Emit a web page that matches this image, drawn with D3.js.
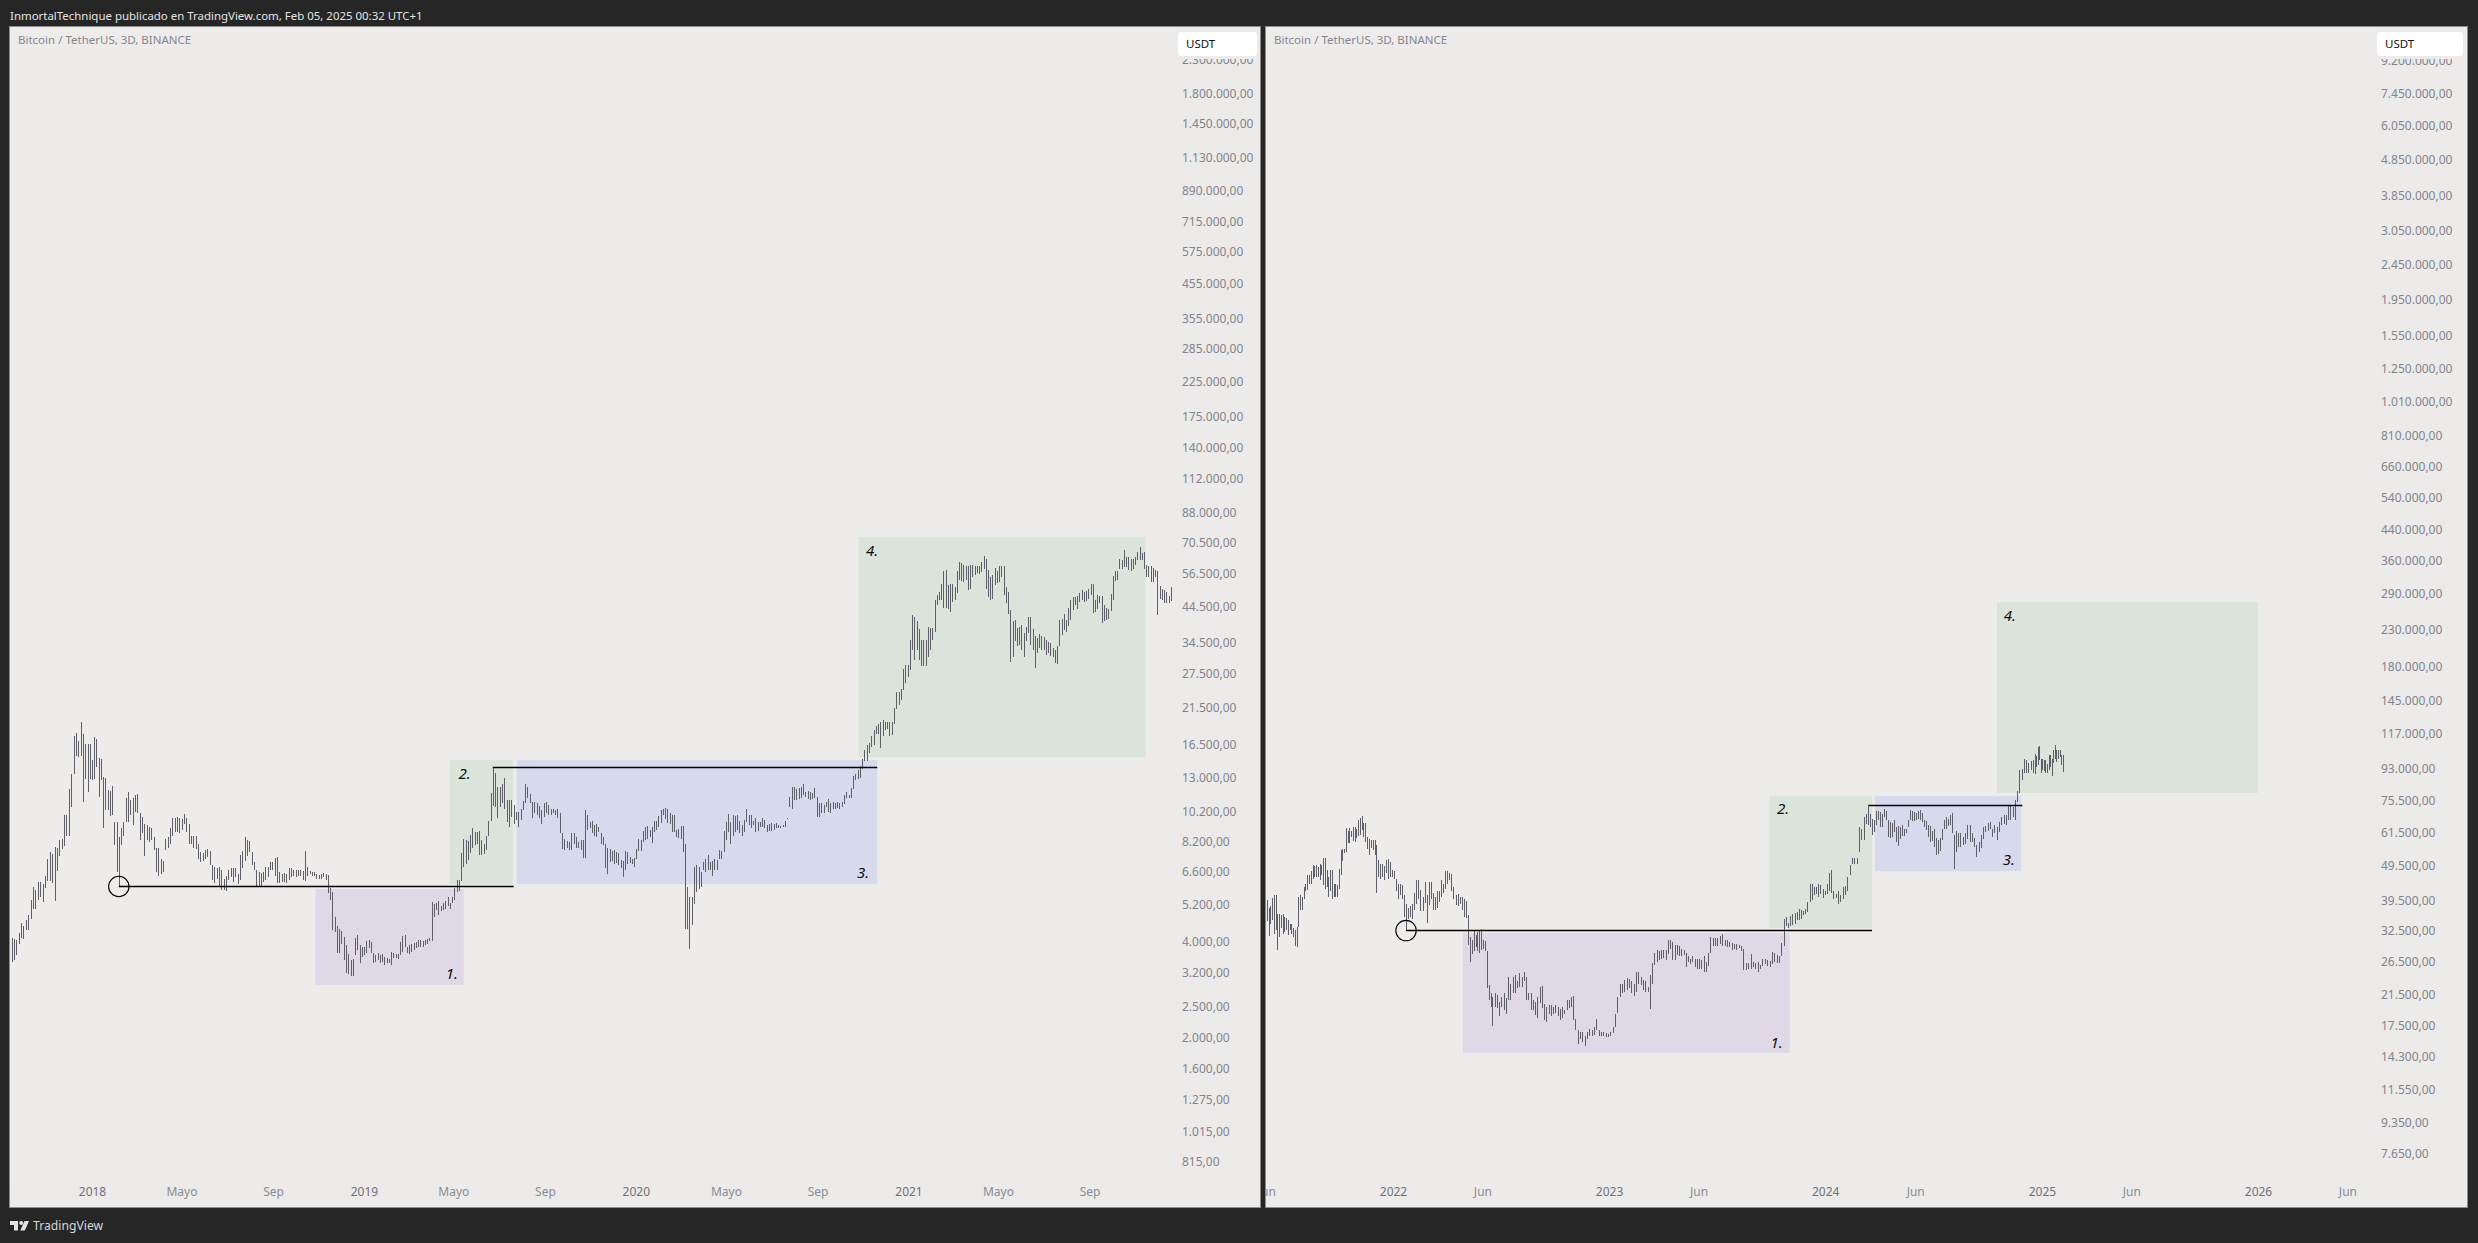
<!DOCTYPE html>
<html>
<head>
<meta charset="utf-8">
<title>BTC 3D</title>
<script src="https://cdn.jsdelivr.net/npm/d3@7"></script>
<style>
  html, body { margin: 0; padding: 0; background: #262626; }
  svg { display: block; }
  text { font-family: "Noto Sans", sans-serif; }
</style>
</head>
<body>
<svg id="chart" width="2478" height="1243"></svg>
<script>
// [high, low] of each 3D bar
const leftBars = [
  [4090,3430],[4050,3490],[4030,3600],[4220,3900],[4540,4090],[4450,4060],[4650,4310],[4830,4310],[5380,4680],[5880,5030],
  [5770,5030],[6120,5360],[6090,5480],[6030,5270],[6400,5840],[7210,6160],[7600,6160],[7470,6050],[7870,5330],[7830,6610],
  [8240,7340],[8300,7750],[9870,7900],[9880,8480],[11950,8480],[13300,10480],[17500,13300],[17900,15160],[16900,15080],[19400,15160],
  [17730,10870],[16500,12830],[16500,11660],[16500,12830],[14720,12710],[17300,12830],[17120,14010],[14880,11290],[14780,12710],[13000,9000],
  [12960,10260],[11820,10260],[11740,9820],[12180,9890],[9400,7980],[9400,6560],[8450,5900],[9000,7980],[9400,8530],[11150,9400],
  [11640,9400],[11020,9890],[11150,9210],[11410,10140],[11550,10010],[10010,8240],[9770,8670],[9300,7350],[9210,8240],[9100,8150],
  [9000,8240],[8450,7690],[7830,6560],[7830,6400],[7210,6450],[7120,6560],[8340,7690],[8450,7780],[9000,8060],[9660,8530],
  [9720,8780],[9770,8780],[9660,8670],[9600,8870],[9950,9300],[9660,8780],[9300,8060],[8530,8060],[8480,7830],[8530,7740],
  [8030,7210],[7600,7060],[7510,7120],[7690,7210],[7730,7300],[7650,6900],[6900,6190],[6820,6080],[6740,6260],[6820,5910],
  [6640,5760],[6260,5760],[6400,5730],[6640,6190],[6740,6320],[6740,6120],[6740,6320],[6450,6020],[7430,6190],[7650,6740],
  [8450,7120],[8240,7340],[8200,7600],[7600,6900],[7060,6640],[6640,5880],[6560,5910],[6510,5910],[6560,6120],[6820,6190],
  [6820,6320],[7060,6640],[7060,6640],[7280,6400],[7320,6080],[6560,6080],[6450,6120],[6510,6120],[6450,6080],[6740,6190],
  [6780,6320],[6670,6400],[6640,6320],[6670,6400],[6640,6400],[6600,6190],[7650,6160],[6820,6400],[6600,6450],[6560,6400],
  [6560,6400],[6450,6260],[6420,6230],[6450,6260],[6510,6320],[6450,6190],[6420,5630],[5840,5360],[5700,4310],[4760,4260],
  [4440,3650],[4360,3650],[4290,3900],[4100,3470],[3870,3180],[3640,3140],[3470,3100],[3510,3100],[4090,3600],[4170,3740],
  [3870,3400],[3820,3560],[3830,3600],[3990,3650],[4030,3790],[3960,3650],[3650,3410],[3600,3430],[3660,3470],[3600,3400],
  [3630,3430],[3550,3360],[3530,3400],[3510,3400],[3700,3360],[3660,3530],[3640,3530],[3640,3510],[3960,3600],[4140,3700],
  [4170,3820],[3820,3650],[3870,3630],[3900,3700],[3940,3740],[3960,3790],[4010,3830],[4030,3830],[3990,3820],[4030,3870],
  [4050,3900],[4090,3990],[5270,3990],[5220,4760],[5250,4985],[5340,4820],[5120,4950],[5250,4985],[5340,5040],[5480,5120],
  [5250,5040],[5480,5250],[5840,5360],[6190,5680],[6190,5710],[7520,6160],[8300,6820],[8260,6970],[8220,7180],[8600,7510],
  [9000,7830],[8780,7980],[8750,8030],[8850,7430],[8260,7430],[8030,7490],[8530,7690],[9470,8530],[11620,9470],[13940,10540],
  [13350,10480],[12150,9720],[12150,10480],[12360,10780],[12960,10370],[11020,9400],[11020,9060],[11020,9770],[10610,9300],[10140,9540],
  [10140,9100],[10370,9540],[10940,10260],[12360,10780],[12150,11150],[11550,10780],[10840,9720],[10890,10010],[10780,9890],[10590,9660],
  [10260,9250],[10780,9770],[10840,10010],[10670,9890],[10370,9890],[10370,10010],[10260,9890],[10320,9660],[10040,8670],[8700,7730],
  [8340,7690],[8220,7780],[8150,7690],[8670,7690],[8700,8060],[8450,7830],[8150,7780],[8240,7690],[8240,7280],[10260,7280],
  [9890,8870],[9400,9000],[9470,8670],[9210,8530],[9300,8450],[9100,8780],[8670,8060],[8420,7980],[8060,6740],[7800,6450],
  [7730,7060],[7650,7120],[7690,6970],[7600,7000],[7510,6900],[7160,6740],[7120,6340],[7650,6670],[7600,6970],[7320,7000],
  [7210,6970],[7280,6820],[7730,7210],[8340,7650],[8240,7650],[8850,8150],[9060,8240],[9160,8300],[8870,8420],[9060,8100],
  [9470,8780],[9470,8870],[9820,9060],[10260,9360],[10370,9890],[10440,9600],[10320,9360],[10040,9300],[9890,8780],[9890,8780],
  [8870,8450],[8920,8380],[9160,8300],[9160,7600],[8060,4340],[5900,4340],[5480,3760],[5480,4490],[6820,5220],[6900,5680],
  [6820,5820],[6560,5880],[7060,6640],[7210,6560],[7430,6640],[7060,6640],[7120,6400],[7210,6640],[7160,6670],[7690,7210],
  [7650,7210],[8850,7600],[9400,8240],[9950,8780],[9400,8060],[9890,8530],[9820,8780],[9890,8870],[9470,8670],[9210,8530],
  [9540,8780],[10320,9400],[9890,9210],[9890,9000],[9470,9210],[9660,8780],[9400,8850],[9400,9100],[9660,9100],[9540,9000],
  [9210,8780],[9300,8850],[9330,8850],[9300,8880],[9360,9000],[9210,9000],[9160,9000],[9210,9050],[9470,9100],[9720,9600],
  [11290,10460],[12090,10370],[12090,11020],[11960,11020],[12000,11080],[12090,11150],[12370,11410],[11720,11290],[11800,11080],[11640,11020],
  [11580,11080],[12000,11150],[11290,9770],[10780,9770],[10780,10010],[10670,10040],[10840,10460],[11070,10140],[10780,10040],[10890,10370],
  [10780,10370],[10890,10440],[10780,10370],[10890,10480],[11410,10730],[11640,11150],[11410,11150],[12000,11150],[13100,11900],[13270,12710],
  [13650,12830],[14130,12960],[14780,13820],[15850,14640],[16400,14600],[16640,15470],[17440,16160],[18280,16400],[18790,17740],[19050,17740],
  [19380,16040],[19660,17440],[19300,18280],[19300,18400],[19300,17500],[19300,17600],[21370,19050],[23940,21250],[23940,21930],[24490,22600],
  [28300,24300],[29250,25600],[29250,26740],[34800,28170],[41800,32430],[41300,30200],[39950,32400],[37930,30190],[35000,28870],[35000,28870],
  [34800,28900],[38330,30800],[38150,32430],[38150,35000],[46490,37050],[48190,44960],[49240,46500],[52420,46490],[57500,44060],[57850,44060],
  [51830,43700],[52430,42700],[52210,45950],[51310,46490],[57250,49000],[61200,53600],[61000,53350],[60130,53000],[59500,53600],[59300,50160],
  [59800,50500],[60130,54860],[59500,55700],[59500,56500],[59300,56300],[61400,56900],[64100,58400],[62570,50500],[57850,47500],[55040,46670],
  [55680,47000],[58570,51800],[57200,52700],[59300,53000],[59500,54860],[59500,48190],[51310,45700],[49240,42240],[43300,29900],[39950,30930],
  [40470,34600],[38150,33400],[38330,33700],[39000,32430],[36650,30930],[38300,34600],[41100,36650],[41300,33700],[37930,32600],[35810,28560],
  [35300,31760],[36470,32960],[35990,32570],[35600,32430],[34800,31360],[34400,31760],[34080,31170],[32960,30900],[32600,29570],[33400,29400],
  [40370,33400],[40500,36250],[42250,37610],[40370,37050],[44060,38500],[46490,40370],[47500,43300],[47680,44950],[47900,43540],[49000,45950],
  [50000,46490],[49240,45950],[49650,46230],[50500,47000],[52210,48190],[52420,42400],[46490,42700],[48190,43700],[47900,45510],[47900,39580],
  [44960,39950],[44060,40200],[43700,40600],[48660,43100],[55200,46490],[57250,53350],[57250,53600],[62500,58400],[62260,58400],[66580,59000],
  [63300,59000],[63600,57850],[62500,57500],[62800,58400],[63600,60130],[65800,62270],[68300,62270],[65200,62000],[65800,58100],[59800,55000],
  [59300,54900],[59500,53000],[58600,53000],[57850,54860],[57300,41800],[51600,47030],[50500,46670],[50200,45500],[49240,45500],[47900,45500],
  [51300,46230]
]
const rightBars = [
  [39500,34500],[37500,31200],[38000,33900],[40000,34700],[40900,31600],[40900,32500],[36200,28500],[36200,31000],[35900,32900],[36200,31800],
  [35500,32200],[35100,32500],[34800,31500],[33900,32500],[33800,31700],[32900,31000],[32500,29300],[33100,29200],[40400,33100],[40900,37100],
  [40400,37100],[43000,39900],[44000,42000],[46500,42300],[46500,44000],[47600,44000],[49600,45400],[49300,46000],[49600,46000],[49100,46000],
  [50100,45000],[49600,46500],[52000,43600],[52000,42500],[48100,43000],[46000,40400],[47900,42000],[47900,39700],[44000,40400],[43800,40400],
  [43500,40400],[48300,42400],[54700,46500],[55200,51000],[55200,53500],[62900,54000],[61900,57100],[63200,57300],[62000,59500],[63700,58000],
  [63300,57600],[62500,59200],[66500,60000],[67200,60400],[68200,62100],[65000,59500],[65000,57500],[59400,55200],[58700,53000],[58400,55300],
  [58400,54800],[58400,53000],[56500,41500],[51200,46000],[50100,45400],[50100,45900],[49300,45000],[51200,47000],[51500,45400],[50700,45900],
  [48100,46000],[47600,45400],[45400,42000],[44000,39900],[44000,40800],[43500,39800],[40900,35400],[38600,32400],[37500,35000],[37900,35300],
  [38400,35000],[41300,37100],[45100,38400],[44900,39900],[42300,36700],[40400,36700],[44500,38700],[40900,34000],[44500,38300],[44500,39800],
  [41300,37100],[40400,37100],[41800,37500],[41800,38900],[44900,40400],[44000,41300],[47800,42500],[47800,44000],[47000,45000],[46700,42000],
  [43000,39900],[40900,38300],[41200,37900],[40400,38600],[40400,37100],[39900,35400],[39200,35100],[35800,29500],[31000,26400],[30400,27900],
  [32600,28300],[31400,29200],[32100,28400],[32400,28000],[32700,28600],[30400,28800],[30200,28300],[28300,22300],[22800,20700],[21600,19800],
  [21100,17400],[21600,19800],[21300,19600],[20400,18600],[21100,19800],[21600,19400],[20900,18800],[24000,20700],[22900,20700],[24000,21600],
  [24300,21600],[23400,22300],[24600,22500],[24000,22500],[24800,23400],[24000,20700],[21600,20600],[21600,19400],[20600,19400],[20400,18700],
  [21100,18400],[22500,20200],[22600,19600],[20100,18100],[19700,17900],[20000,18800],[20000,18600],[19700,18800],[20000,19000],[19700,18600],
  [19500,18100],[19700,18400],[19400,18800],[20600,19400],[20600,19600],[21100,19800],[21200,18100],[18300,17000],[17000,15500],[16800,16000],
  [16800,15700],[16400,15300],[16800,16000],[17100,16300],[17000,16400],[17300,16500],[18200,17000],[17000,16400],[16800,16400],[16800,16300],
  [16700,16200],[16600,16200],[16800,16300],[17300,16700],[18800,17300],[21100,19000],[22900,21100],[22900,21600],[23500,21800],[23900,22100],
  [23700,22300],[23400,21600],[22900,21200],[24800,21800],[24800,22900],[24000,22700],[23500,22000],[23400,21800],[22500,21800],[24300,19500],
  [26200,22900],[28100,25900],[28600,26400],[28300,26700],[28500,27000],[28600,27200],[28600,26700],[30400,27900],[30500,28800],[30100,26700],
  [29600,26700],[29600,27700],[29400,27400],[28800,27400],[28600,27700],[28100,25600],[27400,26400],[27000,26100],[27400,26400],[27000,25600],
  [27000,25300],[27000,25300],[26800,25300],[27400,24700],[26400,24700],[28100,25800],[31000,28100],[30900,29400],[30900,29400],[30900,29400],
  [31200,29800],[31600,29400],[30400,29300],[30400,29200],[30100,29200],[29900,28600],[29800,28700],[29800,28500],[29600,28900],[29400,28300],
  [28800,25100],[26300,25100],[26200,25300],[27900,25300],[26400,25600],[26300,25300],[26400,24700],[26000,25200],[27000,25800],[27000,26100],
  [26800,25800],[26600,25600],[28200,26100],[28100,26400],[27700,26300],[27400,26300],[29900,27400],[35000,29400],[35300,33300],[34000,32900],
  [35700,33500],[36000,33700],[36300,33900],[36600,34800],[37300,34800],[37100,35000],[36900,35900],[37300,36100],[39000,36600],[44000,39000],
  [44000,39500],[43000,40800],[43000,41200],[43800,40400],[43500,41200],[42400,40100],[42000,40800],[44000,41200],[47000,42000],[48100,41300],
  [42000,39900],[41200,40100],[41800,38500],[40900,39000],[43000,39900],[43200,40800],[46000,42000],[49600,46500],[52000,49800],[52000,50000],
  [52000,50000],[63700,54000],[62500,58300],[67800,58300],[69000,64900],[72600,64500],[69200,63700],[67000,60100],[66600,61600],[70600,64500],
  [70600,66300],[70000,63700],[69300,63700],[71500,67700],[70400,66300],[66300,59500],[65700,59200],[65100,59500],[66300,61600],[63700,57600],
  [63900,56200],[63700,58800],[64500,59900],[62500,59900],[62800,60900],[66600,63400],[71000,66300],[70400,66000],[70000,66000],[69600,66300],
  [70400,67000],[71000,66300],[69600,65700],[66300,63400],[66000,62300],[64200,59500],[63900,57600],[61900,57800],[62500,55800],[59200,52900],
  [58300,53400],[59200,54500],[62800,58300],[66300,62500],[67800,62800],[67000,64100],[68600,64500],[69600,60900],[60100,48300],[61900,54100],
  [60900,55700],[60900,55700],[59500,56400],[60900,57000],[64200,58800],[64200,57600],[60900,57600],[59200,55700],[56400,52300],[57600,54100],
  [60100,55500],[63400,58800],[63900,61600],[65100,61900],[65700,62500],[62800,59500],[64200,60900],[63700,58300],[65700,61600],[67700,64500],
  [68600,64900],[68600,64500],[73100,66300],[72800,66600],[72300,67800],[75800,66300],[80200,74600],[92100,79100],[92700,85900],[98500,89900],
  [98000,90400],[96200,89900],[97600,91800],[98000,89900],[102300,89500],[100800,94000],[106900,94900],[107400,98000],[98500,90400],[98500,91800],
  [98000,91400],[98000,90400],[95800,90400],[101100,91800],[101100,94000],[99000,88500],[104800,96200],[107900,99000],[105000,97000],[104800,98500],
  [105000,100100],[101100,94900],[101100,90700]
]

// bars whose date can be told from a landmark on the picture
const leftAnchorBars = [0, 29, 46, 126, 146, 182, 209, 249, 296, 394, 510]
const leftAnchorDates = ['2017-09-15', '2017-12-17', '2018-02-06', '2018-10-14', '2018-12-14', '2019-04-02', '2019-06-23', '2019-10-25', '2020-03-13', '2021-01-06', '2021-12-19']
const rightAnchorBars = [0, 54, 62, 77, 108, 120, 158, 189, 216, 247, 269, 285, 328, 363, 382]
const rightAnchorDates = ['2021-06-02', '2021-11-09', '2021-12-04', '2022-01-23', '2022-05-11', '2022-06-18', '2022-11-09', '2023-03-11', '2023-06-21', '2023-10-23', '2024-01-11', '2024-03-14', '2024-08-05', '2024-12-17', '2025-02-05']

const leftPriceTicks = [2300000, 1800000, 1450000, 1130000, 890000, 715000, 575000, 455000, 355000, 285000, 225000, 175000, 140000, 112000, 88000, 70500, 56500, 44500, 34500, 27500, 21500, 16500, 13000, 10200, 8200, 6600, 5200, 4000, 3200, 2500, 2000, 1600, 1275, 1015, 815]
const rightPriceTicks = [9200000, 7450000, 6050000, 4850000, 3850000, 3050000, 2450000, 1950000, 1550000, 1250000, 1010000, 810000, 660000, 540000, 440000, 360000, 290000, 230000, 180000, 145000, 117000, 93000, 75500, 61500, 49500, 39500, 32500, 26500, 21500, 17500, 14300, 11550, 9350, 7650]
const leftTimeTicks = ['2018-01-01', '2018-05-01', '2018-09-01', '2019-01-01', '2019-05-01', '2019-09-01', '2020-01-01', '2020-05-01', '2020-09-01', '2021-01-01', '2021-05-01', '2021-09-01']
const rightTimeTicks = ['2021-06-01', '2022-01-01', '2022-06-01', '2023-01-01', '2023-06-01', '2024-01-01', '2024-06-01', '2025-01-01', '2025-06-01', '2026-01-01', '2026-06-01']

// phases: from, to, top price, bottom price, kind, label, label date, label price
const leftPhases = [
  ['2018-10-28', '2019-05-15', 5800, 2905, 'fall', '1.', '2019-04-29', 3144],
  ['2019-04-26', '2019-07-20', 14690, 6013, 'rise', '2.', '2019-05-16', 13280],
  ['2019-07-25', '2020-11-20', 14690, 6013, 'range', '3.', '2020-11-01', 6516],
  ['2020-10-26', '2021-11-15', 73400, 15010, 'rise', '4.', '2020-11-13', 66240]
]
const rightPhases = [
  ['2022-04-29', '2023-11-02', 31860, 14650, 'fall', '1.', '2023-10-11', 15600],
  ['2023-09-29', '2024-03-20', 77570, 32970, 'rise', '2.', '2023-10-22', 71280],
  ['2024-03-25', '2024-11-27', 77570, 47670, 'range', '3.', '2024-11-06', 51200],
  ['2024-10-17', '2026-01-01', 273400, 79200, 'rise', '4.', '2024-11-08', 249500]
]
// horizontal levels: from, to, price
const leftLevels = [['2018-02-06', '2019-07-21', 5914], ['2019-06-23', '2020-11-20', 13940]]
const rightLevels = [['2022-01-23', '2024-03-20', 32420], ['2024-03-14', '2024-11-29', 73000]]

const phaseFill = {fall: '#dfd8e6', rise: '#dbe4da', range: '#d7daec'}
const monthNames = {4: 'Mayo', 5: 'Jun', 8: 'Sep'}
const priceFormat = d3.formatLocale({decimal: ',', thousands: '.', grouping: [3], currency: ['', '']}).format(',.2f')

const svg = d3.select('#chart')
const parseDay = d3.utcParse('%Y-%m-%d')
const height = {top: 27, bottom: 1207, axis: 1182}

svg.append('text')
  .attr('x', 10).attr('y', 15.5).attr('dy', '0.35em')
  .attr('fill', '#e3e3e3').style('font-size', '11.45px')
  .text('InmortalTechnique publicado en TradingView.com, Feb 05, 2025 00:32 UTC+1')

const logo = svg.append('g').attr('transform', 'translate(10,1221)').attr('fill', '#e3e3e3')
logo.append('path').attr('d', 'M0 0H8V9.5H4V4H0Z')
logo.append('circle').attr('cx', 11.2).attr('cy', 2).attr('r', 2)
logo.append('path').attr('d', 'M14.5 0H19L14.8 9.5H10.3Z')
svg.append('text')
  .attr('x', 33).attr('y', 1226).attr('dy', '0.35em')
  .attr('fill', '#d8d8d8').style('font-size', '12.2px')
  .text('TradingView')

function drawPane(opts) {
  const {id, paneX, axisX, paneEnd} = opts

  const x = d3.scaleUtc().domain(opts.xDomain.map(parseDay)).range(opts.xRange)
  const y = d3.scaleLog().domain(opts.yDomain).range(opts.yRange)
  const barDate = d3.scaleLinear()
    .domain(opts.anchorBars)
    .range(opts.anchorDates.map(parseDay))

  const pane = svg.append('g')
  svg.append('clipPath').attr('id', 'clip-' + id)
    .append('rect')
    .attr('x', paneX).attr('y', height.top)
    .attr('width', paneEnd - paneX).attr('height', height.bottom - height.top)

  pane.append('rect')
    .attr('x', paneX - 0.5).attr('y', height.top - 0.5)
    .attr('width', paneEnd - paneX + 1).attr('height', height.bottom - height.top + 1)
    .attr('fill', '#edecea').attr('stroke', '#8c8c8c')
  pane.append('rect')
    .attr('x', axisX).attr('y', height.top)
    .attr('width', paneEnd - axisX).attr('height', height.bottom - height.top)
    .attr('fill', '#ecebe9')
  pane.append('rect')
    .attr('x', paneX).attr('y', height.axis)
    .attr('width', axisX - paneX).attr('height', height.bottom - height.axis)
    .attr('fill', '#ecebe9')

  const inner = pane.append('g').attr('clip-path', `url(#clip-${id})`)

  inner.selectAll('rect.phase').data(opts.phases).join('rect')
    .attr('class', 'phase')
    .attr('x', d => x(parseDay(d[0])))
    .attr('y', d => y(d[2]))
    .attr('width', d => x(parseDay(d[1])) - x(parseDay(d[0])))
    .attr('height', d => y(d[3]) - y(d[2]))
    .attr('fill', d => phaseFill[d[4]])

  // one pixel wide bars, snapped like the original
  inner.selectAll('line.bar').data(opts.bars).join('line')
    .attr('class', 'bar')
    .attr('x1', (d, i) => Math.round(x(barDate(i))) + 0.5)
    .attr('x2', (d, i) => Math.round(x(barDate(i))) + 0.5)
    .attr('y1', d => y(d[0]))
    .attr('y2', d => y(d[1]))
    .attr('stroke', '#5e5f69')
    .attr('stroke-width', 1)
    .attr('shape-rendering', 'crispEdges')

  inner.selectAll('line.level').data(opts.levels).join('line')
    .attr('class', 'level')
    .attr('x1', d => x(parseDay(d[0])))
    .attr('x2', d => x(parseDay(d[1])))
    .attr('y1', d => y(d[2]))
    .attr('y2', d => y(d[2]))
    .attr('stroke', '#000').attr('stroke-width', 1.6)

  inner.append('circle')
    .attr('cx', x(parseDay(opts.levels[0][0])))
    .attr('cy', y(opts.levels[0][2]))
    .attr('r', 10.2)
    .attr('fill', 'none').attr('stroke', '#000').attr('stroke-width', 1.1)

  inner.selectAll('text.phase-label').data(opts.phases).join('text')
    .attr('class', 'phase-label')
    .attr('x', d => x(parseDay(d[6])))
    .attr('y', d => y(d[7]))
    .attr('dy', '0.35em')
    .attr('text-anchor', 'middle')
    .attr('fill', '#0c0c0c')
    .style('font-size', '15px')
    .style('font-style', 'italic')
    .text(d => d[5])

  inner.append('text')
    .attr('x', paneX + 8).attr('y', 41).attr('dy', '0.3em')
    .attr('fill', '#85858f').style('font-size', '11.5px')
    .text('Bitcoin / TetherUS, 3D, BINANCE')

  const priceAxis = d3.axisRight(y)
    .tickValues(opts.priceTicks)
    .tickSize(0)
    .tickPadding(0)
    .tickFormat(priceFormat)
  const priceG = pane.append('g').attr('transform', `translate(${opts.labelX},0.5)`).call(priceAxis)
  priceG.select('.domain').remove()
  priceG.selectAll('text').attr('fill', '#83838d').style('font-size', '12px').style('font-family', '"Noto Sans", sans-serif')

  const timeAxis = d3.axisBottom(x)
    .tickValues(opts.timeTicks.map(parseDay))
    .tickSize(0)
    .tickPadding(0)
    .tickFormat(d => d.getUTCMonth() === 0 ? String(d.getUTCFullYear()) : monthNames[d.getUTCMonth()])
  const timeG = inner.append('g').attr('transform', 'translate(0,1187.5)').call(timeAxis)
  timeG.select('.domain').remove()
  timeG.selectAll('text')
    .attr('fill', d => d.getUTCMonth() === 0 ? '#6f707a' : '#8a8b95')
    .style('font-size', '12px')
    .style('font-family', '"Noto Sans", sans-serif')

  // the unit badge and its margin hide the top of the highest price label
  pane.append('rect')
    .attr('x', axisX).attr('y', height.top)
    .attr('width', paneEnd - axisX).attr('height', 32)
    .attr('fill', '#ecebe9')
  pane.append('rect')
    .attr('x', opts.badge[0]).attr('y', 32)
    .attr('width', opts.badge[1] - opts.badge[0]).attr('height', 24)
    .attr('rx', 3)
    .attr('fill', '#fff')
  pane.append('text')
    .attr('x', opts.badge[0] + 8).attr('y', 44).attr('dy', '0.35em')
    .attr('fill', '#111').style('font-size', '11.5px')
    .text('USDT')
}

drawPane({
  id: 'left', paneX: 10, axisX: 1173, paneEnd: 1260, labelX: 1182, badge: [1178, 1257],
  xDomain: ['2018-01-01', '2021-01-01'], xRange: [92, 908.5],
  yDomain: [1800000, 815], yRange: [92.7, 1161.6],
  bars: leftBars, anchorBars: leftAnchorBars, anchorDates: leftAnchorDates,
  phases: leftPhases, levels: leftLevels,
  priceTicks: leftPriceTicks, timeTicks: leftTimeTicks
})

drawPane({
  id: 'right', paneX: 1266, axisX: 2373, paneEnd: 2467, labelX: 2381, badge: [2377, 2463],
  xDomain: ['2022-01-01', '2026-01-01'], xRange: [1393, 2258],
  yDomain: [7450000, 7650], yRange: [93, 1153],
  bars: rightBars, anchorBars: rightAnchorBars, anchorDates: rightAnchorDates,
  phases: rightPhases, levels: rightLevels,
  priceTicks: rightPriceTicks, timeTicks: rightTimeTicks
})
</script>
</body>
</html>
